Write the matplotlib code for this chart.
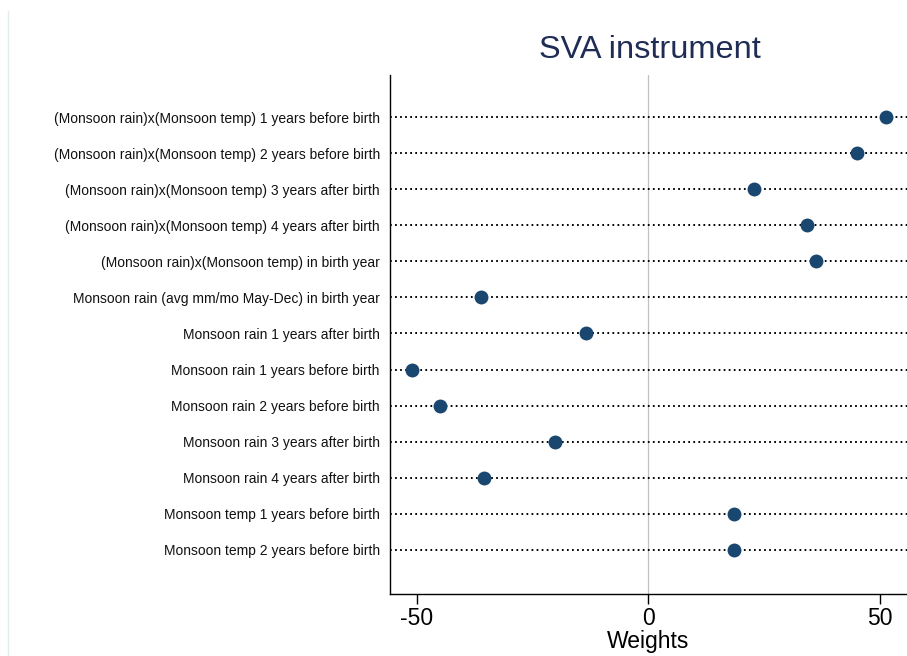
import matplotlib
matplotlib.use("Agg")
import matplotlib.pyplot as plt
from matplotlib.lines import Line2D

plt.rcParams['font.family'] = ['Liberation Sans', 'DejaVu Sans']

labels = [
    "(Monsoon rain)x(Monsoon temp) 1 years before birth",
    "(Monsoon rain)x(Monsoon temp) 2 years before birth",
    "(Monsoon rain)x(Monsoon temp) 3 years after birth",
    "(Monsoon rain)x(Monsoon temp) 4 years after birth",
    "(Monsoon rain)x(Monsoon temp) in birth year",
    "Monsoon rain (avg mm/mo May-Dec) in birth year",
    "Monsoon rain 1 years after birth",
    "Monsoon rain 1 years before birth",
    "Monsoon rain 2 years before birth",
    "Monsoon rain 3 years after birth",
    "Monsoon rain 4 years after birth",
    "Monsoon temp 1 years before birth",
    "Monsoon temp 2 years before birth",
]
weights = [51.2, 44.9, 22.7, 34.3, 36.1, -36.1, -13.4, -51.0, -45.1, -20.1, -35.4, 18.4, 18.4]
xticks = [-50, 0, 50]

navy = "#1a476f"

fig = plt.figure(figsize=(9.07, 6.56), dpi=100)
ax = fig.add_axes([389.5 / 907, (656 - 593.6) / 656, (907 - 389.5) / 907, (593.6 - 75) / 656])

rows = list(range(len(labels)))
ax.axvline(0, color="#c0c0c0", lw=0.9, zorder=1)
for r in rows:
    ax.axhline(r, color="black", lw=1.4, linestyle=(0, (0.9, 1.7)), zorder=2)
ax.plot(weights, rows, "o", color=navy, markersize=9, zorder=3, linestyle="none")

ax.set_xlim(-55.9, 55.8)
ax.set_ylim(12 + 43.6 / 36.08, -42 / 36.08)
ax.set_yticks(rows)
ax.set_yticklabels(labels, fontsize=10, color="#111111")
ax.tick_params(axis="y", length=0, pad=7)
ax.set_xticks(xticks)
ax.set_xticklabels([str(t) for t in xticks], fontsize=16.5)
ax.tick_params(axis="x", length=7, width=1.0, pad=3)
ax.set_xlabel("Weights", fontsize=16.5, labelpad=0)

for side in ["top", "right"]:
    ax.spines[side].set_visible(False)
for side in ["left", "bottom"]:
    ax.spines[side].set_linewidth(1.0)

fig.text(650 / 907, 1 - 50 / 656, "SVA instrument", fontsize=23.4, color="#1f2d55",
         ha="center", va="center")

# thin border on the left of the graph region
fig.add_artist(Line2D([8.3 / 907, 8.3 / 907], [0, 1 - 11 / 656], color="#e4ecec", lw=1.0,
                      transform=fig.transFigure))

fig.savefig("out.png", dpi=100)
